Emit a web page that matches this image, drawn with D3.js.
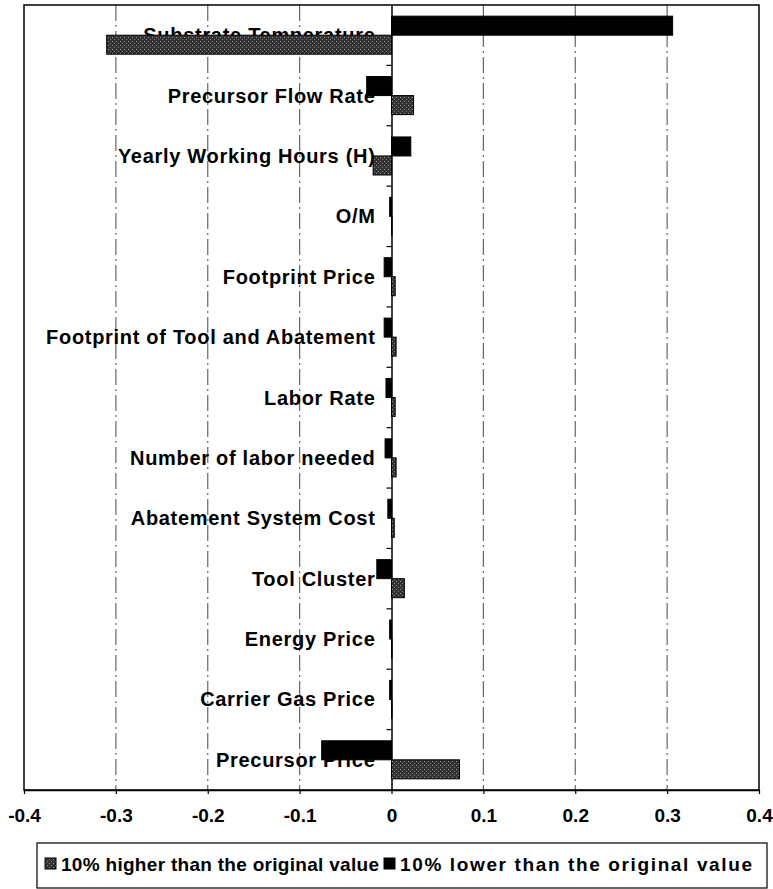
<!DOCTYPE html>
<html>
<head>
<meta charset="utf-8">
<script src="https://cdn.jsdelivr.net/npm/d3@7"></script>
<style>
  body { margin: 0; background: #fff; }
  svg { display: block; font-family: "Liberation Sans", Arial, sans-serif; font-weight: bold; }
</style>
</head>
<body>
<div class="chart"></div>
<script>
// sensitivity data (tornado chart)
var categories = [
  "Substrate Temperature", "Precursor Flow Rate", "Yearly Working Hours (H)", "O/M",
  "Footprint Price", "Footprint of Tool and Abatement", "Labor Rate", "Number of labor needed",
  "Abatement System Cost", "Tool Cluster", "Energy Price", "Carrier Gas Price", "Precursor Price"
];
// 10% lower than the original value (black)
var lowerValues = [0.306, -0.027, 0.021, -0.002, -0.008, -0.008, -0.006, -0.007, -0.004, -0.016, -0.002, -0.002, -0.076];
// 10% higher than the original value (grey)
var higherValues = [-0.31, 0.024, -0.02, 0.0005, 0.004, 0.005, 0.004, 0.005, 0.003, 0.014, 0.0005, 0.0005, 0.074];
var xTicks = [-0.4, -0.3, -0.2, -0.1, 0, 0.1, 0.2, 0.3, 0.4];
var legendLabels = ["10% higher than the original value", "10% lower than the original value"];

var svgWidth = 773, svgHeight = 889;
var margin = { top: 5, right: 14, bottom: 99, left: 24 };
var width = svgWidth - margin.left - margin.right;
var height = svgHeight - margin.top - margin.bottom;

var svg = d3.select(".chart").append("svg")
  .attr("width", svgWidth)
  .attr("height", svgHeight);

// speckled grey fill like the original print
var defs = svg.append("defs");
var pat = defs.append("pattern")
  .attr("id", "speckle")
  .attr("width", 4).attr("height", 4)
  .attr("patternUnits", "userSpaceOnUse");
pat.append("rect").attr("width", 4).attr("height", 4).attr("fill", "#333");
pat.append("rect").attr("x", 0).attr("y", 0).attr("width", 1).attr("height", 1).attr("fill", "#8f8f8f");
pat.append("rect").attr("x", 2).attr("y", 2).attr("width", 1).attr("height", 1).attr("fill", "#7a7a7a");

var chartGroup = svg.append("g")
  .attr("transform", `translate(${margin.left}, ${margin.top})`);

var x = d3.scaleLinear().domain([-0.4, 0.4]).range([0, width]);
var y = d3.scaleBand().domain(categories).range([0, height]).paddingInner(0).paddingOuter(0);
var barH = y.bandwidth() * 0.315;

// dash-dot gridlines
chartGroup.selectAll(".grid")
  .data(xTicks.filter(d => d !== 0 && Math.abs(d) !== 0.4))
  .enter()
  .append("line")
  .attr("class", "grid")
  .attr("x1", d => x(d)).attr("x2", d => x(d))
  .attr("y1", 0).attr("y2", height)
  .attr("stroke", "#666")
  .attr("stroke-width", 1.2)
  .attr("stroke-dasharray", "16,4,2,4");

// plot frame
chartGroup.append("rect")
  .attr("x", 0).attr("y", 0)
  .attr("width", width).attr("height", height)
  .attr("fill", "none")
  .attr("stroke", "#000")
  .attr("stroke-width", 1.5);

// x axis
var bottomAxis = d3.axisBottom(x).tickValues(xTicks).tickSize(4).tickSizeOuter(0)
  .tickFormat(d => d === 0 ? "0" : d.toFixed(1));
var xAxisG = chartGroup.append("g")
  .attr("transform", `translate(0, ${height})`)
  .call(bottomAxis);
xAxisG.select(".domain").attr("stroke", "#000").attr("stroke-width", 1.5);
xAxisG.selectAll(".tick line").attr("stroke", "#000").attr("stroke-width", 1.2);
xAxisG.selectAll(".tick text")
  .attr("y", 19)
  .attr("font-size", 19)
  .attr("font-family", "Liberation Sans, Arial, sans-serif")
  .attr("font-weight", "bold")
  .attr("fill", "#000");

// category axis at zero
var leftAxis = d3.axisLeft(y).tickSize(0).tickPadding(16);
var yAxisG = chartGroup.append("g")
  .attr("transform", `translate(${x(0)}, 0)`)
  .call(leftAxis);
yAxisG.select(".domain").attr("stroke", "#000").attr("stroke-width", 1.5);
yAxisG.selectAll(".tick text")
  .attr("font-size", 20)
  .attr("letter-spacing", 0.7)
  .attr("font-family", "Liberation Sans, Arial, sans-serif")
  .attr("font-weight", "bold")
  .attr("fill", "#000")
  .attr("dy", "0.35em");

// boundary ticks between categories
yAxisG.selectAll(".btick")
  .data(d3.range(1, categories.length))
  .enter()
  .append("line")
  .attr("class", "btick")
  .attr("x1", -5).attr("x2", 0)
  .attr("y1", i => i * y.step()).attr("y2", i => i * y.step())
  .attr("stroke", "#000")
  .attr("stroke-width", 1.2);

// bars: lower (black) on top half, higher (grey) on bottom half
chartGroup.selectAll(".lowBar")
  .data(categories)
  .enter()
  .append("rect")
  .attr("class", "lowBar")
  .attr("x", (d, i) => x(Math.min(0, lowerValues[i])))
  .attr("y", d => y(d) + y.bandwidth() / 2 - barH)
  .attr("width", (d, i) => Math.abs(x(lowerValues[i]) - x(0)))
  .attr("height", barH)
  .attr("fill", "#000")
  .attr("stroke", "#000")
  .attr("stroke-width", 1);

chartGroup.selectAll(".highBar")
  .data(categories)
  .enter()
  .append("rect")
  .attr("class", "highBar")
  .attr("x", (d, i) => x(Math.min(0, higherValues[i])))
  .attr("y", d => y(d) + y.bandwidth() / 2)
  .attr("width", (d, i) => Math.abs(x(higherValues[i]) - x(0)))
  .attr("height", barH)
  .attr("fill", "url(#speckle)")
  .attr("stroke", "#000")
  .attr("stroke-width", 1);

// legend
var legend = svg.append("g").attr("transform", "translate(37, 843)");
legend.append("rect")
  .attr("x", 0).attr("y", 0)
  .attr("width", 730).attr("height", 45)
  .attr("fill", "#fff")
  .attr("stroke", "#000")
  .attr("stroke-width", 1.2);

var legendFills = ["url(#speckle)", "#000"];
var legendX = [8, 347];
var legendTextW = [318, 352];
legendLabels.forEach(function(label, i) {
  legend.append("rect")
    .attr("x", legendX[i]).attr("y", 15)
    .attr("width", 11).attr("height", 11)
    .attr("fill", legendFills[i])
    .attr("stroke", "#000");
  legend.append("text")
    .attr("x", legendX[i] + 16)
    .attr("y", 28)
    .attr("font-size", 19)
    .attr("textLength", legendTextW[i])
    .attr("lengthAdjust", "spacing")
    .attr("fill", "#000")
    .text(label);
});
</script>
</body>
</html>
